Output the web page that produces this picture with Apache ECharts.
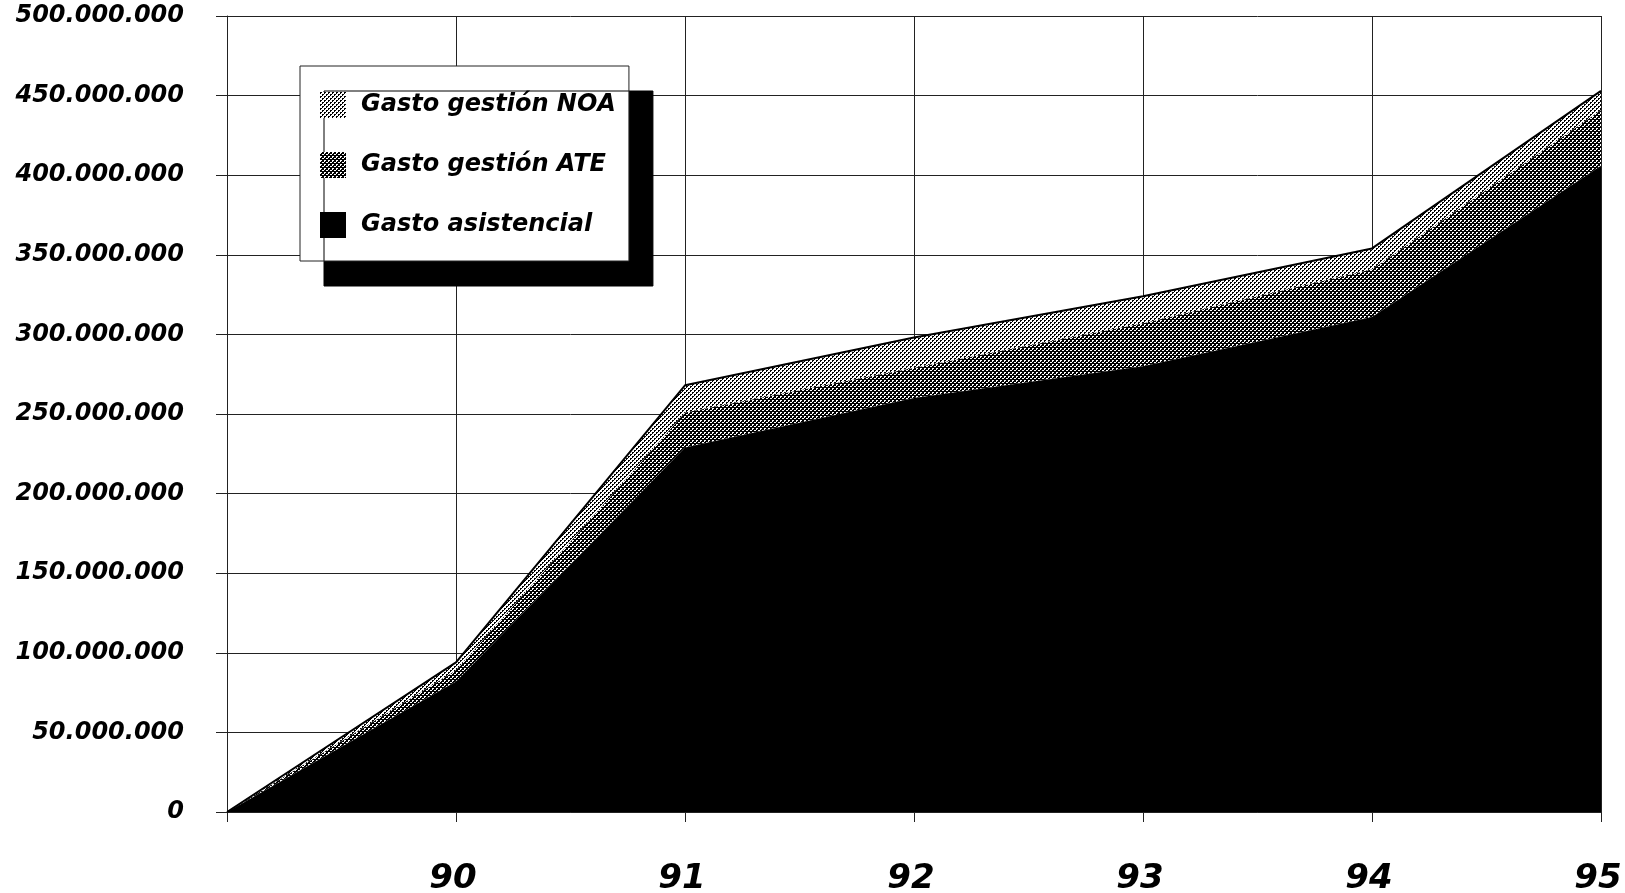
<!DOCTYPE html>
<html>
<head>
<meta charset="utf-8">
<title>Gasto asistencial y de gestión</title>
<script src="https://cdn.jsdelivr.net/npm/echarts@6/dist/echarts.min.js"></script>
<style>
  html, body { margin: 0; padding: 0; background: #ffffff; }
  #chart { width: 1625px; height: 893px; }
</style>
</head>
<body>
<div id="chart"></div>
<script>
// Years on the horizontal axis (the first slot is the origin, unlabeled)
const years = ['', '90', '91', '92', '93', '94', '95'];

// Stacked amounts per year
const gastoAsistencial = [0, 82000000, 229000000, 260000000, 280000000, 311000000, 406000000];
const gastoGestionATE  = [0,  7000000,  22000000,  19000000,  27000000,  30000000,  35000000];
const gastoGestionNOA  = [0,  5000000,  17000000,  19000000,  17000000,  13000000,  12000000];

const seriesNames = ['Gasto gestión NOA', 'Gasto gestión ATE', 'Gasto asistencial'];

// Halftone-style fills built from tiny canvas tiles
function makeTile(bg, fg, pixels) {
  const c = document.createElement('canvas');
  c.width = 4; c.height = 4;
  const ctx = c.getContext('2d');
  ctx.fillStyle = bg;
  ctx.fillRect(0, 0, 4, 4);
  ctx.fillStyle = fg;
  pixels.forEach(p => ctx.fillRect(p[0], p[1], 1, 1));
  return { image: c, repeat: 'repeat' };
}
const lightDots = makeTile('#ffffff', '#000000', [[0,0],[1,0],[0,1],[2,2],[3,2],[2,3]]);
const darkDots  = makeTile('#000000', '#ffffff', [[0,0],[1,0],[2,2],[3,2],[0,1]]);

function thousands(v) {
  return String(v).replace(/\B(?=(\d{3})+(?!\d))/g, '.');
}

const labelFont = {
  color: '#000',
  fontFamily: 'DejaVu Sans',
  fontWeight: 'bold',
  fontStyle: 'italic'
};

const chart = echarts.init(document.getElementById('chart'), null, { renderer: 'canvas' });

chart.setOption({
  backgroundColor: '#ffffff',
  animation: false,
  grid: { left: 227, right: 24, top: 16, bottom: 81, containLabel: false, outerBoundsMode: 'none' },
  legend: {
    orient: 'vertical',
    left: 300,
    top: 66,
    padding: [26, 13, 23, 20],
    itemWidth: 26,
    itemHeight: 26,
    itemGap: 34,
    backgroundColor: '#ffffff',
    borderColor: '#222',
    borderWidth: 1,
    borderRadius: 0,
    shadowColor: '#000000',
    shadowBlur: 0,
    shadowOffsetX: 24,
    shadowOffsetY: 25,
    textStyle: Object.assign({ fontSize: 24, lineHeight: 26, padding: [0, 0, 0, 10] }, labelFont),
    data: [
      { name: seriesNames[0], icon: 'rect', itemStyle: { color: lightDots, borderWidth: 0 } },
      { name: seriesNames[1], icon: 'rect', itemStyle: { color: darkDots, borderWidth: 0 } },
      { name: seriesNames[2], icon: 'rect', itemStyle: { color: '#000000', borderWidth: 0 } }
    ]
  },
  xAxis: {
    type: 'category',
    boundaryGap: false,
    data: years,
    axisLine: { show: true, lineStyle: { color: '#222', width: 1 } },
    axisTick: { show: true, length: 10, lineStyle: { color: '#222' } },
    splitLine: { show: true, lineStyle: { color: '#222', width: 1 } },
    axisLabel: Object.assign({ fontSize: 34, margin: 50, padding: [0, 6, 0, 0] }, labelFont)
  },
  yAxis: {
    type: 'value',
    min: 0,
    max: 500000000,
    interval: 50000000,
    axisLine: { show: true, lineStyle: { color: '#222', width: 1 } },
    axisTick: { show: true, length: 11, lineStyle: { color: '#222' } },
    splitLine: { show: true, lineStyle: { color: '#222', width: 1 } },
    axisLabel: Object.assign({ fontSize: 24, margin: 43, formatter: thousands }, labelFont)
  },
  series: [
    {
      name: seriesNames[2],
      type: 'line',
      stack: 'gasto',
      data: gastoAsistencial,
      symbol: 'none',
      itemStyle: { color: '#000000' },
      lineStyle: { width: 0, color: '#000000' },
      areaStyle: { color: '#000000', opacity: 1 },
      z: 3
    },
    {
      name: seriesNames[1],
      type: 'line',
      stack: 'gasto',
      data: gastoGestionATE,
      symbol: 'none',
      itemStyle: { color: darkDots },
      lineStyle: { width: 0, color: '#000000' },
      areaStyle: { color: darkDots, opacity: 1 },
      z: 2
    },
    {
      name: seriesNames[0],
      type: 'line',
      stack: 'gasto',
      data: gastoGestionNOA,
      symbol: 'none',
      itemStyle: { color: lightDots },
      lineStyle: { width: 2, color: '#000000' },
      areaStyle: { color: lightDots, opacity: 1 },
      z: 2
    }
  ]
});
</script>
</body>
</html>
